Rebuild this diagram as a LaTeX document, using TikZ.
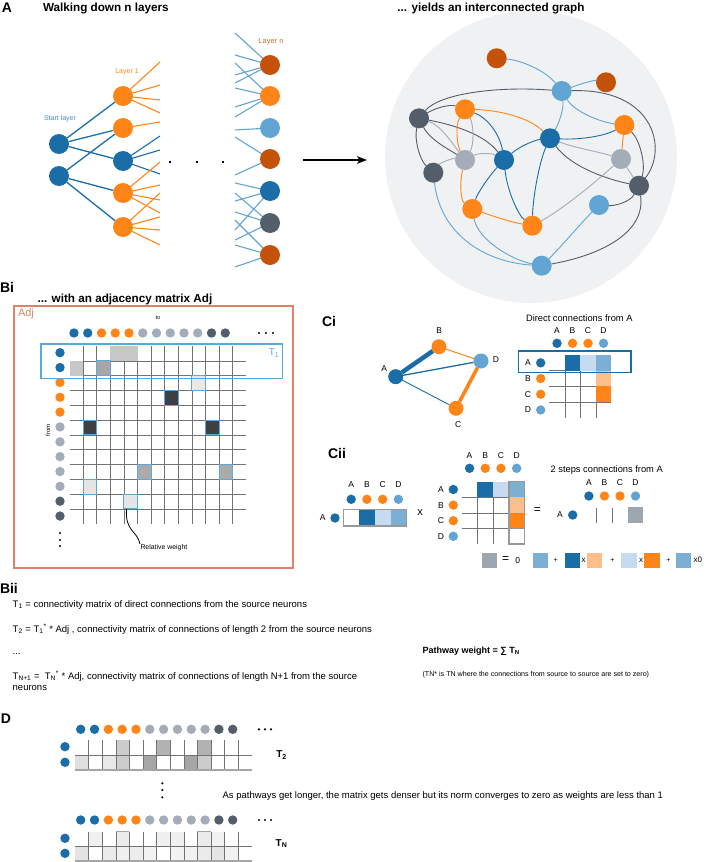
\documentclass[tikz,border=0pt]{standalone}
\usepackage{fontspec}
\setmainfont{Liberation Sans}
\usetikzlibrary{arrows.meta}
\pgfdeclarelayer{bg}
\pgfsetlayers{bg,main}
\definecolor{dblue}{HTML}{1B6DA8}
\definecolor{orng}{HTML}{FF8519}
\definecolor{dorng}{HTML}{C4520A}
\definecolor{lblue}{HTML}{62A5D3}
\definecolor{dgray}{HTML}{545E6B}
\definecolor{lgray}{HTML}{A3ACB8}
\definecolor{bgc}{HTML}{EFF1F3}
\definecolor{salmon}{HTML}{E0826A}
\definecolor{tblue}{HTML}{5BA8DC}
\definecolor{sblue}{HTML}{3A8CC8}
\definecolor{midblue}{HTML}{7BAFD4}
\definecolor{paleblue}{HTML}{C6DBEF}
\definecolor{paleorng}{HTML}{FDBF8A}
\definecolor{resgray}{HTML}{9EA7B0}
\newcommand\fsz[1]{\fontsize{#1}{#1}\selectfont}
\newcommand\bcell[3]{\path[#3] ({69.5+(#1-1)*13.6},{346+(#2-1)*14.8}) rectangle ++(13.6,14.8);}
\newcommand\dcell[3]{\fill[#3] ({75+(#1-1)*13.6},#2) rectangle ++(13.6,15);}
\begin{document}
\begin{tikzpicture}[x=1pt,y=-1pt,
  every node/.style={inner sep=0pt, outer sep=0pt},
  big/.style={circle, fill=#1, minimum size=20pt},
  mdot/.style={circle, fill=#1, minimum size=9.4pt},
  cdot/.style={circle, fill=#1, minimum size=15pt},
  lbl/.style={font=\fsz{14}\bfseries},
  ttl/.style={font=\fsz{11.7}\bfseries},
  body/.style={font=\fsz{9.5}, anchor=west},
  abcd/.style={font=\fsz{8.5}},
  gridl/.style={draw=black!55, line width=0.6},
  ge/.style={line width=0.9},
  wb/.style={fill=#1, draw=tblue, line width=0.9},
  ]
\useasboundingbox (0,0) rectangle (705,862);

% ---------------- Panel A ----------------
\node[lbl] (lA) at (7,8) {A};
\node[ttl, anchor=west] (tA1) at (43,9) {Walking down n layers};
\node[ttl] (tA2) at (491,9) {... yields an interconnected graph};

\node[font=\fsz{7}, text=sblue] (tstart) at (60,119) {Start layer};
\node[font=\fsz{7}, text=orng] (tl1) at (127,72) {Layer 1};
\node[font=\fsz{7.5}, text=dorng!85] (tln) at (271,42) {Layer n};

\node[big=dblue] (S1) at (59,144) {};
\node[big=dblue] (S2) at (59,176) {};
\node[big=orng] (L1) at (123,96) {};
\node[big=orng] (L2) at (123,128) {};
\node[big=dblue] (L3) at (123,161) {};
\node[big=orng] (L4) at (123,193) {};
\node[big=orng] (L5) at (123,227) {};

\node[big=dorng] (N1) at (270,65) {};
\node[big=orng] (N2) at (270,96) {};
\node[big=lblue] (N3) at (270,128) {};
\node[big=dorng] (N4) at (270,159) {};
\node[big=dblue] (N5) at (270,191) {};
\node[big=dgray] (N6) at (270,223) {};
\node[big=dorng] (N7) at (270,255) {};

\begin{pgfonlayer}{bg}
\draw[dblue, line width=1.3] (S1) -- (L1) (S1) -- (L2) (S1) -- (L3) (S2) -- (L2) (S2) -- (L4) (S2) -- (L5);
\foreach \y in {62,85,100,113} \draw[orng, line width=1.1] (L1.center) -- (160,\y);
\draw[orng, line width=1.1] (L2.center) -- (160,122);
\foreach \y in {136,150,174} \draw[dblue, line width=1.1] (L3.center) -- (160,\y);
\foreach \y in {162,185,200,213} \draw[orng, line width=1.1] (L4.center) -- (160,\y);
\foreach \y in {193,217,230,245} \draw[orng, line width=1.1] (L5.center) -- (160,\y);
\foreach \y in {33,55,75,83} \draw[lblue, line width=1.1] (N1.center) -- (235,\y);
\foreach \y in {63,88,107,117} \draw[lblue, line width=1.1] (N2.center) -- (235,\y);
\draw[lblue, line width=1.1] (N3.center) -- (235,130);
\foreach \y in {137,175} \draw[lblue, line width=1.1] (N4.center) -- (235,\y);
\foreach \y in {183,201,230} \draw[lblue, line width=1.1] (N5.center) -- (235,\y);
\foreach \y in {193,212,240} \draw[lblue, line width=1.1] (N6.center) -- (235,\y);
\foreach \y in {220,245,267} \draw[lblue, line width=1.1] (N7.center) -- (235,\y);
\end{pgfonlayer}

\foreach \x in {170,197,223} \fill[black] (\x-1.3,160.7) rectangle ++(2.6,2.6);

\coordinate (ar1) at (303,160);
\coordinate (ar2) at (367,160);
\draw[-{Stealth[length=10pt,width=7.5pt,inset=2.5pt]}, line width=1.1] (ar1) -- (ar2);

% graph
\begin{pgfonlayer}{bg}
\fill[bgc] (531,157) circle (146pt);
\end{pgfonlayer}
\node[big=dorng] (g1) at (496.7,58.3) {};
\node[big=lblue] (g2) at (561.7,91) {};
\node[big=dorng] (g3) at (606,82.3) {};
\node[big=dgray] (g4) at (419,118.3) {};
\node[big=orng] (g5) at (465,109.3) {};
\node[big=orng] (g6) at (624.3,125) {};
\node[big=dblue] (g7) at (550,138.3) {};
\node[big=lgray] (g8) at (465,160) {};
\node[big=dblue] (g9) at (504,160) {};
\node[big=lgray] (g10) at (621,159) {};
\node[big=dgray] (g11) at (433.3,172.7) {};
\node[big=dgray] (g12) at (639,185.7) {};
\node[big=orng] (g13) at (472.3,209) {};
\node[big=lblue] (g14) at (599,205) {};
\node[big=orng] (g15) at (532.3,225.7) {};
\node[big=lblue] (g16) at (541.7,265.7) {};
\begin{pgfonlayer}{bg}
\draw[ge, lblue] (g1) .. controls (520,60) and (545,70) .. (g2);
\draw[ge, lblue] (g2) .. controls (580,84) and (594,80) .. (g3);
\draw[ge, lblue] (g2) .. controls (564,110) and (558,125) .. (g7);
\draw[ge, lblue] (g2) .. controls (575,112) and (600,122) .. (g6);
\draw[ge, dgray] (g4) .. controls (440,93) and (500,86) .. (g2);
\draw[ge, dgray] (g2) .. controls (655,88) and (668,150) .. (g12);
\draw[ge, dgray] (g4) .. controls (435,108) and (450,104) .. (g5);
\draw[ge, lgray] (g4) .. controls (440,125) and (450,140) .. (g8);
\draw[ge, dgray] (g4) .. controls (430,140) and (450,150) .. (g8);
\draw[ge, dgray] (g4) .. controls (455,125) and (485,135) .. (g9);
\draw[ge, dgray] (g4) .. controls (414,140) and (420,160) .. (g11);
\draw[ge, orng] (g5) .. controls (500,110) and (530,118) .. (g7);
\draw[ge, orng] (g5) .. controls (455,125) and (457,145) .. (g8);
\draw[ge, lgray] (g5) .. controls (474,125) and (474,145) .. (g8);
\draw[ge, dblue] (g5) .. controls (488,118) and (500,135) .. (g9);
\draw[ge, lgray] (g8) .. controls (478,153) and (492,153) .. (g9);
\draw[ge, lgray] (g8) .. controls (452,158) and (440,163) .. (g11);
\draw[ge, orng] (g8) .. controls (460,180) and (460,200) .. (g13);
\draw[ge, dblue] (g9) .. controls (520,146) and (535,140) .. (g7);
\draw[ge, dblue] (g9) .. controls (490,175) and (478,192) .. (g13);
\draw[ge, dblue] (g9) .. controls (507,190) and (518,215) .. (g15);
\draw[ge, dblue] (g7) .. controls (540,160) and (533,195) .. (g15);
\draw[ge, dblue] (g7) .. controls (580,140) and (605,136) .. (g6);
\draw[ge, lgray] (g7) .. controls (575,148) and (600,152) .. (g10);
\draw[ge, dgray] (g7) .. controls (572,168) and (610,180) .. (g12);
\draw[ge, orng] (g6) -- (g10);
\draw[ge, dgray] (g6) .. controls (640,140) and (646,165) .. (g12);
\draw[ge, lgray] (g10) -- (g12);
\draw[ge, lgray] (g10) .. controls (600,178) and (565,208) .. (g15);
\draw[ge, orng] (g13) .. controls (490,215) and (510,222) .. (g15);
\draw[ge, lblue] (g13) .. controls (478,240) and (512,260) .. (g16);
\draw[ge, lblue] (g11) .. controls (440,232) and (482,262) .. (g16);
\draw[ge, lblue] (g14) .. controls (582,222) and (560,248) .. (g16);
\draw[ge, dgray] (g14) .. controls (615,206) and (630,202) .. (g12);
\draw[ge, dgray] (g16) .. controls (602,255) and (646,232) .. (g12);
\end{pgfonlayer}

% ---------------- Panel Bi ----------------
\node[lbl, anchor=west] (lBi) at (0,287) {Bi};
\node[ttl] (tBi) at (125,299) {... with an adjacency matrix Adj};
\draw[salmon, line width=1.4] (14,306) rectangle (293,568);
\node[font=\fsz{11}, text=salmon, anchor=west] (tadj) at (18,314) {Adj};
\node[font=\fsz{5.5}] (tto) at (158,318) {to};
\node[font=\fsz{6}, rotate=90] (tfrom) at (48,430) {from};

\foreach \c [count=\i] in {dblue,dblue,orng,orng,orng,lgray,lgray,lgray,lgray,lgray,dgray,dgray}
  \node[mdot=\c] (bt\i) at ({74+(\i-1)*13.75},333) {};
\foreach \c [count=\i] in {dblue,dblue,orng,orng,orng,lgray,lgray,lgray,lgray,lgray,dgray,dgray}
  \node[mdot=\c] (bl\i) at (60,{352.7+(\i-1)*14.85}) {};
\foreach \x in {259,266,273} \fill (\x,333) circle (1.2pt);
\foreach \y in {533,540,546} \fill (60,\y) circle (1.2pt);

\foreach \k in {1,...,12} \draw[gridl] ({69.5+\k*13.6},346) -- ({69.5+\k*13.6},523.6);
\foreach \k in {1,...,11} \draw[gridl] (69.5,{346+\k*14.8}) -- (246.3,{346+\k*14.8});

\bcell{4}{1}{fill=black!22}
\bcell{5}{1}{fill=black!22}
\bcell{1}{2}{fill=black!22}
\bcell{3}{2}{wb=black!35}
\bcell{10}{3}{wb=black!9}
\bcell{8}{4}{wb=black!75}
\bcell{2}{6}{wb=black!75}
\bcell{11}{6}{wb=black!75}
\bcell{6}{9}{wb=black!33}
\bcell{12}{9}{wb=black!33}
\bcell{2}{10}{wb=black!10}
\bcell{5}{11}{wb=black!10}

\draw[tblue, line width=1.3] (41,344) rectangle (282.7,378.3);
\node[font=\fsz{10}, text=tblue] (tT1) at (274,353) {T\textsubscript{1}};

\node[font=\fsz{6.9}, anchor=west] (trw) at (140.5,548) {Relative weight};
\coordinate (rws) at (126.5,509);
\coordinate (rwe) at (140,544);
\draw[line width=0.8] (rws) .. controls (125,532) and (137,530) .. (rwe);

% ---------------- Panel Bii ----------------
\node[lbl, anchor=west] (lBii) at (0,588) {Bii};
\node[body] (b1) at (12.7,605) {T\textsubscript{1} = connectivity matrix of direct connections from the source neurons};
\node[body] (b2) at (12.7,629) {T\textsubscript{2} = T\textsubscript{1}\textsuperscript{*} * Adj , connectivity matrix of connections of length 2 from the source neurons};
\node[body] (b3) at (12.7,654) {...};
\node[body] (b4) at (12.7,676) {T\textsubscript{N+1} = \ T\textsubscript{N}\textsuperscript{*} * Adj, connectivity matrix of connections of length N+1 from the source};
\node[body] (b5) at (12.7,688) {neurons};
\node[font=\fsz{9}\bfseries, anchor=west] (pw) at (422.6,651) {Pathway weight = ∑ T\textsubscript{N}};
\node[font=\fsz{7.1}, anchor=west] (pwn) at (422.6,674.3) {(TN* is TN where the connections from source to source are set to zero)};

% ---------------- Panel Ci ----------------
\node[lbl] (lCi) at (329,321) {Ci};
\node[cdot=dblue] (CA) at (395.7,376.7) {};
\node[cdot=orng] (CB) at (439,346.7) {};
\node[cdot=lblue] (CD) at (481,361) {};
\node[cdot=orng] (CC) at (456,408.3) {};
\begin{pgfonlayer}{bg}
\draw[dblue, line width=4.5] (CA) -- (CB);
\draw[dblue, line width=1.3] (CA) -- (CD);
\draw[dblue, line width=0.9] (CA) -- (CC);
\draw[orng, line width=1] (CB) -- (CD);
\draw[orng, line width=3.6] (CD) -- (CC);
\end{pgfonlayer}
\node[abcd] (tCA) at (384.3,368.3) {A};
\node[abcd] (tCB) at (439.3,330.7) {B};
\node[abcd] (tCD) at (496,359.3) {D};
\node[abcd] (tCC) at (458.3,425) {C};

\node[font=\fsz{9.3}] (tdc) at (579.3,318.3) {Direct connections from A};
\foreach \l/\c [count=\i] in {A/dblue,B/orng,C/orng,D/lblue} {
  \node[abcd] (ch\i) at ({557.05+(\i-1)*15.5},330.7) {\l};
  \node[mdot=\c] (cc\i) at ({557.05+(\i-1)*15.5},343.3) {};
  \node[abcd] (rl\i) at (528,{362.85+(\i-1)*15.7}) {\l};
  \node[mdot=\c] (rc\i) at (540.7,{362.85+(\i-1)*15.7}) {};
}
\foreach \k in {1,2,3} \draw[gridl] ({549.3+\k*15.5},370.7) -- ({549.3+\k*15.5},417.8);
\foreach \k in {1,2,3} \draw[gridl] (549.3,{355+\k*15.7}) -- (611.3,{355+\k*15.7});
\fill[dblue] (564.8,355) rectangle ++(15.5,15.7);
\fill[paleblue] (580.3,355) rectangle ++(15.5,15.7);
\fill[midblue] (595.8,355) rectangle ++(15.5,15.7);
\fill[paleorng] (595.8,370.7) rectangle ++(15.5,15.7);
\fill[orng] (595.8,386.4) rectangle ++(15.5,15.7);
\draw[dblue, line width=1.6] (518.3,351) rectangle (630.7,372.3);

% ---------------- Panel Cii ----------------
\node[lbl] (lCii) at (337,453) {Cii};
\foreach \l/\c [count=\i] in {A/dblue,B/orng,C/orng,D/lblue} {
  \node[abcd] (vh\i) at ({351.15+(\i-1)*15.75},485) {\l};
  \node[mdot=\c] (vc\i) at ({351.15+(\i-1)*15.75},499.3) {};
}
\node[abcd] (vA) at (322.7,518) {A};
\node[mdot=dblue] (vAc) at (335,518) {};
\fill[dblue] (359.05,509.5) rectangle ++(15.75,16.5);
\fill[paleblue] (374.8,509.5) rectangle ++(15.75,16.5);
\fill[midblue] (390.55,509.5) rectangle ++(15.75,16.5);
\draw[black!40, line width=1.5] (343.3,509.5) rectangle (406.3,526);
\node[font=\fsz{11}] (tx) at (420,513) {x};
\foreach \l/\c [count=\i] in {A/dblue,B/orng,C/orng,D/lblue} {
  \node[abcd] (mh\i) at ({469.55+(\i-1)*15.7},456) {\l};
  \node[mdot=\c] (mc\i) at ({469.55+(\i-1)*15.7},468.3) {};
  \node[abcd] (ml\i) at (441,{489.5+(\i-1)*15.6}) {\l};
  \node[mdot=\c] (mr\i) at (453.3,{489.5+(\i-1)*15.6}) {};
}
\foreach \k in {1,2,3} \draw[gridl] (461.7,{481.7+\k*15.6}) -- (508.8,{481.7+\k*15.6});
\foreach \k in {1,2} \draw[gridl] ({461.7+\k*15.7},497.3) -- ({461.7+\k*15.7},544.1);
\fill[dblue] (477.4,481.7) rectangle ++(15.7,15.6);
\fill[paleblue] (493.1,481.7) rectangle ++(15.7,15.6);
\fill[midblue] (508.8,481.7) rectangle ++(15.7,15.6);
\fill[paleorng] (508.8,497.3) rectangle ++(15.7,15.6);
\fill[orng] (508.8,512.9) rectangle ++(15.7,15.6);
\draw[black!40, line width=0.6] (508.8,512.9) -- (524.5,512.9) (508.8,528.5) -- (524.5,528.5);
\draw[black!40, line width=1.5] (508.8,481.7) rectangle (524.5,544.1);
\node[font=\fsz{12}] (teq) at (537.3,511) {=};
\node[font=\fsz{9.3}] (t2s) at (606.7,470) {2 steps connections from A};
\foreach \l/\c [count=\i] in {A/dblue,B/orng,C/orng,D/lblue} {
  \node[abcd] (rh\i) at ({588.9+(\i-1)*15.55},482.7) {\l};
  \node[mdot=\c] (rcc\i) at ({588.9+(\i-1)*15.55},496) {};
}
\node[abcd] (rA) at (560,515) {A};
\node[mdot=dblue] (rAc) at (572.7,515) {};
\draw[gridl] (596.7,508.3) -- (596.7,522.7) (612.3,508.3) -- (612.3,522.7);
\fill[resgray] (627.7,507.3) rectangle (642.7,523.3);
\fill[resgray] (481.7,552.7) rectangle (497.3,568.3);
\node[font=\fsz{12}] (e1) at (505.7,559.5) {=};
\node[font=\fsz{8.5}] (e2) at (517.7,560.5) {0};
\fill[midblue] (533,552.7) rectangle (548.3,568.3);
\node[font=\fsz{7}] (e3) at (555.7,560.5) {+};
\fill[dblue] (565,552.7) rectangle (580,568.3);
\node[font=\fsz{8}] (e4) at (583.5,560) {x};
\fill[paleorng] (587.3,552.7) rectangle (602.3,568.3);
\node[font=\fsz{7}] (e5) at (612.3,560.5) {+};
\fill[paleblue] (621.3,552.7) rectangle (636.7,568.3);
\node[font=\fsz{8}] (e6) at (641,560) {x};
\fill[orng] (644.3,552.7) rectangle (660,568.3);
\node[font=\fsz{7}] (e7) at (668.3,560.5) {+};
\fill[midblue] (675.7,552.7) rectangle (691,568.3);
\node[font=\fsz{8}, anchor=west] (e8) at (693.5,560) {x0};

% ---------------- Panel D ----------------
\node[lbl] (lD) at (6,719) {D};
\foreach \yy/\nm in {729.3/a,820/b} {
  \foreach \c [count=\i] in {dblue,dblue,orng,orng,orng,lgray,lgray,lgray,lgray,lgray,dgray,dgray}
    \node[mdot=\c] (d\nm\i) at ({80.7+(\i-1)*13.82},\yy) {};
  \foreach \x in {259,265,271} \fill (\x,\yy) circle (1.2pt);
}
\node[mdot=dblue] (dl1) at (65,746.7) {};
\node[mdot=dblue] (dl2) at (65,762.3) {};
\node[mdot=dblue] (dl3) at (65,838.3) {};
\node[mdot=dblue] (dl4) at (65,853.3) {};
\dcell{4}{740}{black!20}
\dcell{7}{740}{black!30}
\dcell{10}{740}{black!30}
\dcell{1}{755}{black!12}
\dcell{3}{755}{black!9}
\dcell{4}{755}{black!20}
\dcell{6}{755}{black!35}
\dcell{9}{755}{black!35}
\dcell{10}{755}{black!20}
\foreach \k in {1,...,12} \draw[gridl] ({75+\k*13.6},740) -- ({75+\k*13.6},770);
\draw[gridl] (75,755) -- (251.8,755);
\draw[black!35, line width=1.6] (75,770) -- (251.8,770);
\node[font=\fsz{10}\bfseries] (tT2) at (281.5,755) {T\textsubscript{2}};
\foreach \y in {783.3,790,797.3} \fill (162.3,\y) circle (1.2pt);
\node[body] (tpath) at (222.6,796) {As pathways get longer, the matrix gets denser but its norm converges to zero as weights are less than 1};
\dcell{2}{831.7}{black!6}
\dcell{4}{831.7}{black!8}
\dcell{7}{831.7}{black!6}
\dcell{8}{831.7}{black!6}
\dcell{10}{831.7}{black!8}
\dcell{11}{831.7}{black!5}
\dcell{1}{846.7}{black!11}
\dcell{3}{846.7}{black!8}
\dcell{4}{846.7}{black!6}
\dcell{5}{846.7}{black!7}
\dcell{6}{846.7}{black!5}
\dcell{8}{846.7}{black!5}
\dcell{9}{846.7}{black!5}
\dcell{10}{846.7}{black!8}
\dcell{11}{846.7}{black!10}
\dcell{12}{846.7}{black!5}
\foreach \k in {1,...,12} \draw[gridl] ({75+\k*13.6},831.7) -- ({75+\k*13.6},861);
\draw[gridl] (75,846.7) -- (251.8,846.7);
\foreach \k in {4,10} \draw[black!35, line width=0.8] ({75+(\k-1)*13.6},831.7) -- ++(13.6,0);
\draw[black!35, line width=1.6] (75,861) -- (251.8,861);
\node[font=\fsz{10}\bfseries] (tTN) at (281.5,843.3) {T\textsubscript{N}};
\end{tikzpicture}
\end{document}
